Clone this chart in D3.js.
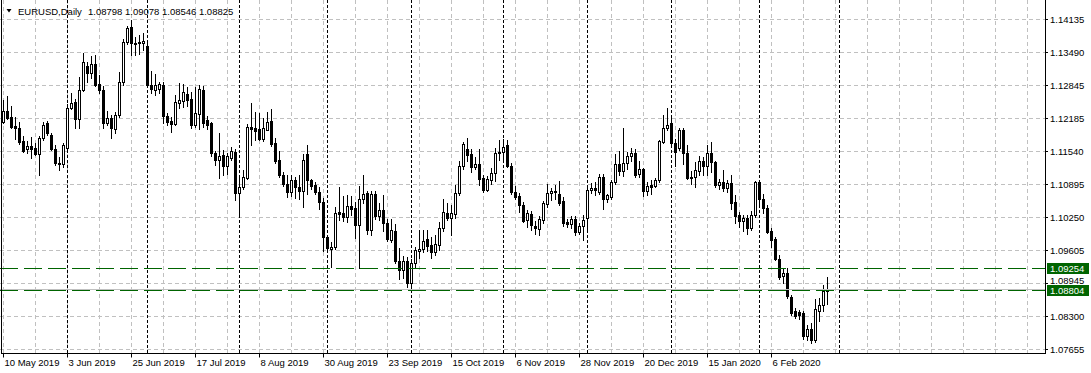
<!DOCTYPE html>
<html>
<head>
<meta charset="utf-8">
<script src="https://cdn.jsdelivr.net/npm/d3@7"></script>
<style>
  body { margin: 0; background: #fff; }
  svg { display: block; font-family: "Liberation Sans", Arial, sans-serif; }
</style>
</head>
<body>
<script>
// EURUSD daily bars, 10 May 2019 .. 26 Feb 2020
const opens = [1.1212,1.1233,1.1222,1.1203,1.1199,1.1173,1.1158,1.1164,1.1161,1.1148,1.1179,1.1209,1.1186,1.1158,1.1130,1.1128,1.1160,1.1238,1.1251,1.1218,
1.1274,1.1321,1.1308,1.1326,1.1286,1.1274,1.1209,1.1220,1.1197,1.1225,1.1290,1.1369,1.1398,1.1367,1.1369,1.1367,1.1361,1.1284,1.1274,1.1277,
1.1284,1.1223,1.1213,1.1207,1.1249,1.1253,1.1266,1.1256,1.1205,1.1226,1.1274,1.1215,1.1209,1.1151,1.1136,1.1146,1.1124,1.1141,1.1153,1.1072,
1.1083,1.1101,1.1201,1.1200,1.1197,1.1177,1.1196,1.1214,1.1170,1.1136,1.1107,1.1090,1.1074,1.1097,1.1084,1.1076,1.1148,1.1098,1.1087,1.1074,
1.1055,1.0986,1.0961,1.0966,1.1034,1.1032,1.1024,1.1046,1.1042,1.1009,1.1061,1.1071,1.0999,1.1070,1.1027,1.1038,1.1013,1.0980,1.0998,1.0938,
1.0920,1.0938,1.0895,1.0934,1.0958,1.0962,1.0981,1.0969,1.0955,1.0970,1.1004,1.1032,1.1023,1.1030,1.1071,1.1124,1.1158,1.1148,1.1122,1.1128,
1.1101,1.1078,1.1097,1.1111,1.1150,1.1152,1.1167,1.1125,1.1073,1.1066,1.1048,1.1019,1.1030,1.1008,1.1002,1.1019,1.1050,1.1071,1.1073,1.1070,
1.1056,1.1015,1.1010,1.1021,1.0996,1.1008,1.1022,1.1077,1.1081,1.1074,1.1104,1.1060,1.1063,1.1094,1.1128,1.1116,1.1130,1.1144,1.1150,1.1109,
1.1119,1.1075,1.1087,1.1085,1.1097,1.1172,1.1200,1.1210,1.1170,1.1161,1.1196,1.1150,1.1101,1.1104,1.1116,1.1135,1.1125,1.1150,1.1133,1.1087,
1.1094,1.1082,1.1091,1.1055,1.1029,1.1016,1.1022,1.1004,1.1028,1.1094,1.1060,1.1042,1.0997,1.0981,1.0942,1.0908,1.0914,1.0868,1.0840,1.0839,
1.0836,1.0791,1.0805,1.0783,1.0840,1.0852,1.08798];
const highs = [1.1254,1.1263,1.1243,1.1222,1.1212,1.1184,1.1174,1.1181,1.1170,1.1184,1.1211,1.1213,1.1189,1.1166,1.1142,1.1170,1.1246,1.1268,1.1256,1.1300,
1.1347,1.1330,1.1341,1.1343,1.1304,1.1282,1.1232,1.1225,1.1231,1.1310,1.1375,1.1400,1.1412,1.1378,1.1382,1.1386,1.1366,1.1311,1.1305,1.1290,
1.1290,1.1229,1.1222,1.1264,1.1288,1.1286,1.1280,1.1270,1.1280,1.1283,1.1282,1.1224,1.1212,1.1155,1.1189,1.1156,1.1150,1.1163,1.1158,1.1107,
1.1117,1.1208,1.1248,1.1230,1.1229,1.1220,1.1231,1.1236,1.1179,1.1155,1.1114,1.1107,1.1107,1.1103,1.1107,1.1149,1.1166,1.1099,1.1093,1.1083,
1.1062,1.0988,1.0975,1.1044,1.1084,1.1066,1.1068,1.1065,1.1055,1.1085,1.1107,1.1075,1.1075,1.1075,1.1052,1.1067,1.1021,1.1021,1.1010,1.0963,
1.0948,1.0946,1.0943,1.0965,1.0999,1.1000,1.1000,1.0985,1.0990,1.1015,1.1061,1.1052,1.1049,1.1088,1.1134,1.1172,1.1179,1.1158,1.1142,1.1158,
1.1107,1.1105,1.1120,1.1160,1.1175,1.1177,1.1176,1.1130,1.1085,1.1071,1.1055,1.1038,1.1036,1.1017,1.1026,1.1057,1.1089,1.1082,1.1088,1.1096,
1.1064,1.1021,1.1027,1.1026,1.1012,1.1029,1.1087,1.1091,1.1093,1.1110,1.1110,1.1069,1.1098,1.1148,1.1154,1.1199,1.1152,1.1160,1.1158,1.1135,
1.1121,1.1094,1.1097,1.1102,1.1176,1.1225,1.1238,1.1225,1.1178,1.1199,1.1200,1.1166,1.1115,1.1132,1.1145,1.1142,1.1166,1.1172,1.1134,1.1100,
1.1117,1.1097,1.1107,1.1068,1.1035,1.1029,1.1029,1.1037,1.1096,1.1096,1.1069,1.1048,1.1003,1.0986,1.0950,1.0924,1.0924,1.0871,1.0846,1.0842,
1.0841,1.0813,1.0817,1.0863,1.0866,1.0892,1.09078];
const lows = [1.1209,1.1217,1.1199,1.1177,1.1169,1.1152,1.1150,1.1140,1.1146,1.1107,1.1176,1.1186,1.1156,1.1127,1.1117,1.1123,1.1156,1.1237,1.1199,1.1199,
1.1272,1.1290,1.1298,1.1282,1.1268,1.1199,1.1205,1.1179,1.1190,1.1222,1.1284,1.1365,1.1343,1.1343,1.1345,1.1352,1.1281,1.1268,1.1265,1.1269,
1.1209,1.1205,1.1192,1.1205,1.1238,1.1240,1.1242,1.1199,1.1202,1.1198,1.1202,1.1198,1.1145,1.1127,1.1101,1.1108,1.1110,1.1137,1.1058,1.1025,
1.1080,1.1100,1.1166,1.1175,1.1175,1.1174,1.1195,1.1164,1.1131,1.1104,1.1085,1.1064,1.1066,1.1062,1.1060,1.1044,1.1070,1.1080,1.1070,1.1040,
1.0958,1.0955,1.0926,1.0962,1.1019,1.1016,1.1015,1.1028,1.0983,1.0924,1.1052,1.0992,1.0989,1.1021,1.1018,1.0997,1.0978,1.0975,1.0934,1.0903,
1.0905,1.0888,1.0878,1.0925,1.0945,1.0955,1.0958,1.0945,1.0950,1.0960,1.0998,1.1019,1.0990,1.1023,1.1068,1.1118,1.1134,1.1114,1.1118,1.1088,
1.1074,1.1076,1.1090,1.1096,1.1136,1.1137,1.1123,1.1070,1.1061,1.1034,1.1014,1.1005,1.0999,1.0991,1.0990,1.1012,1.1044,1.1058,1.1060,1.1048,
1.1008,1.1005,1.1003,1.0990,1.0992,1.0980,1.0999,1.1072,1.1068,1.1069,1.1040,1.1055,1.1060,1.1090,1.1108,1.1105,1.1118,1.1135,1.1103,1.1103,
1.1065,1.1067,1.1069,1.1083,1.1094,1.1170,1.1196,1.1164,1.1124,1.1156,1.1128,1.1100,1.1090,1.1083,1.1107,1.1107,1.1107,1.1113,1.1083,1.1080,
1.1075,1.1073,1.1040,1.1012,1.1006,1.0998,1.0992,1.0999,1.1024,1.1048,1.1033,1.0994,1.0966,1.0941,1.0902,1.0896,1.0865,1.0833,1.0826,1.0825,
1.0786,1.0783,1.0778,1.0780,1.0820,1.0840,1.08546];
const closes = [1.1232,1.1220,1.1202,1.1199,1.1171,1.1154,1.1164,1.1158,1.1148,1.1179,1.1205,1.1189,1.1158,1.1130,1.1128,1.1166,1.1238,1.1249,1.1218,1.1274,
1.1330,1.1308,1.1326,1.1284,1.1274,1.1209,1.1219,1.1199,1.1225,1.1290,1.1369,1.1395,1.1366,1.1364,1.1366,1.1371,1.1284,1.1277,1.1284,1.1285,
1.1223,1.1212,1.1207,1.1251,1.1254,1.1271,1.1254,1.1205,1.1228,1.1277,1.1209,1.1205,1.1150,1.1136,1.1144,1.1125,1.1144,1.1154,1.1072,1.1083,
1.1103,1.1201,1.1197,1.1194,1.1177,1.1199,1.1212,1.1169,1.1135,1.1107,1.1090,1.1074,1.1097,1.1083,1.1076,1.1136,1.1097,1.1085,1.1074,1.1055,
1.0986,1.0963,1.0966,1.1033,1.1031,1.1024,1.1046,1.1040,1.1009,1.1061,1.1069,1.0999,1.1070,1.1027,1.1038,1.1013,1.0982,1.1000,1.0938,1.0920,
1.0938,1.0895,1.0934,1.0960,1.0962,1.0978,1.0968,1.0955,1.0972,1.1004,1.1034,1.1023,1.1032,1.1071,1.1124,1.1168,1.1146,1.1122,1.1128,1.1099,
1.1078,1.1099,1.1111,1.1150,1.1153,1.1163,1.1125,1.1073,1.1064,1.1048,1.1017,1.1032,1.1009,1.1004,1.1021,1.1052,1.1071,1.1076,1.1076,1.1052,
1.1012,1.1010,1.1021,1.0996,1.1008,1.1019,1.1078,1.1081,1.1077,1.1104,1.1060,1.1067,1.1094,1.1128,1.1116,1.1130,1.1145,1.1151,1.1107,1.1118,
1.1075,1.1085,1.1083,1.1097,1.1174,1.1200,1.1206,1.1170,1.1153,1.1195,1.1150,1.1101,1.1104,1.1117,1.1135,1.1125,1.1150,1.1133,1.1087,1.1094,
1.1082,1.1091,1.1053,1.1026,1.1016,1.1022,1.1004,1.1028,1.1094,1.1060,1.1042,1.0996,1.0979,1.0943,1.0907,1.0914,1.0870,1.0837,1.0830,1.0832,
1.0791,1.0805,1.0783,1.0845,1.0852,1.0879,1.08825];

const priceTicks = [1.14135, 1.13490, 1.12845, 1.12185, 1.11540, 1.10895, 1.10250, 1.09605, 1.08945, 1.08300, 1.07655];
const timeLabels = ["10 May 2019", "3 Jun 2019", "25 Jun 2019", "17 Jul 2019", "8 Aug 2019", "30 Aug 2019",
  "23 Sep 2019", "15 Oct 2019", "6 Nov 2019", "28 Nov 2019", "20 Dec 2019", "15 Jan 2020", "6 Feb 2020"];
const hLines = [1.09254, 1.08804];
const bidPrice = 1.08825;
const symbol = "EURUSD,Daily";
const firstDay = Date.UTC(2019, 4, 10);
const holidays = ["2019-12-25", "2020-01-01"];

const W = 1091, H = 373;
const right = 1045, bottom = 353;
const nSlots = 261;   // bars + empty space on the right

// trading days (weekdays without the two holidays), also past the last bar
const days = [];
for (let t = firstDay; days.length < nSlots; t += 86400000) {
  const d = new Date(t);
  const wd = d.getUTCDay();
  if (wd === 0 || wd === 6) continue;
  if (holidays.includes(d.toISOString().slice(0, 10))) continue;
  days.push(d);
}

const svg = d3.select("body").append("svg")
    .attr("width", W)
    .attr("height", H);

// x gives the left pixel column of a bar slot, y is rounded to whole pixels
const x = d3.scaleLinear().domain([0, 1]).range([3, 7]);
const y = d3.scaleLinear().domain([1.07655, 1.14135]).range([349, 19]).interpolate(d3.interpolateRound);
const last = opens.length - 1;

// grid
const grid = svg.append("g");
priceTicks.forEach(p => {
  grid.append("line")
      .attr("x1", 0).attr("x2", right)
      .attr("y1", y(p) + 0.5).attr("y2", y(p) + 0.5)
      .attr("stroke", "#c0c0c0").attr("stroke-dasharray", "4,3");
});
for (let i = 0; i < nSlots; i += 8) {
  grid.append("line")
      .attr("x1", x(i) + 0.5).attr("x2", x(i) + 0.5)
      .attr("y1", 0).attr("y2", bottom)
      .attr("stroke", "#c0c0c0").attr("stroke-dasharray", "4,3");
}

// month separators (only up to the first one after the last bar)
let pastLast = false;
days.forEach((d, i) => {
  if (i === 0 || d.getUTCMonth() === days[i - 1].getUTCMonth() || pastLast) return;
  if (i > last) pastLast = true;
  svg.append("line")
      .attr("x1", x(i) + 0.5).attr("x2", x(i) + 0.5)
      .attr("y1", 0).attr("y2", bottom)
      .attr("stroke", "#000").attr("stroke-dasharray", "3,2");
});

// candles
const bars = svg.append("g");
opens.forEach((o, i) => {
  const c = closes[i];
  const top = y(Math.max(o, c)), bot = y(Math.min(o, c));
  bars.append("rect")
      .attr("x", x(i)).attr("width", 1)
      .attr("y", y(highs[i])).attr("height", y(lows[i]) - y(highs[i]) + 1)
      .attr("fill", "#000");
  if (c < o) {
    bars.append("rect")
        .attr("x", x(i) - 1).attr("width", 3)
        .attr("y", top).attr("height", bot - top + 1)
        .attr("fill", "#000");
  } else if (bot - top < 1) {
    bars.append("rect")
        .attr("x", x(i) - 1).attr("width", 3)
        .attr("y", top).attr("height", 1)
        .attr("fill", "#000");
  } else {
    bars.append("rect")
        .attr("x", x(i) - 0.5).attr("width", 2)
        .attr("y", top + 0.5).attr("height", bot - top)
        .attr("fill", "#fff").attr("stroke", "#000");
  }
});

// bid line and horizontal line objects
svg.append("line")
    .attr("x1", 0).attr("x2", right)
    .attr("y1", y(bidPrice) + 0.5).attr("y2", y(bidPrice) + 0.5)
    .attr("stroke", "#c0c0c0");
hLines.forEach(p => {
  svg.append("line")
      .attr("x1", 0).attr("x2", right)
      .attr("y1", y(p) + 0.5).attr("y2", y(p) + 0.5)
      .attr("stroke", "#006400").attr("stroke-dasharray", "18,6");
});

// frame
svg.append("line").attr("x1", 1.5).attr("x2", 1.5).attr("y1", 0).attr("y2", bottom + 0.5).attr("stroke", "#000");
svg.append("line").attr("x1", 1).attr("x2", right + 1).attr("y1", bottom + 0.5).attr("y2", bottom + 0.5).attr("stroke", "#000");
svg.append("line").attr("x1", right + 0.5).attr("x2", right + 0.5).attr("y1", 0).attr("y2", bottom + 0.5).attr("stroke", "#000");

// time axis
const xAxis = d3.axisBottom(x)
    .tickValues(timeLabels.map((_, k) => k * 16))
    .tickFormat((d, k) => timeLabels[k])
    .tickSizeInner(4).tickSizeOuter(0).tickPadding(2);
const gx = svg.append("g")
    .attr("transform", `translate(0,${bottom + 0.5})`)
    .call(xAxis);
gx.select(".domain").remove();
gx.selectAll("text")
    .attr("text-anchor", "start").attr("dx", 1)
    .attr("font-family", "Liberation Sans, Arial, sans-serif").attr("font-size", 9.5).attr("fill", "#000");

// price axis
const yAxis = d3.axisRight(y)
    .tickValues(priceTicks)
    .tickFormat(d3.format(".5f"))
    .tickSizeInner(3).tickSizeOuter(0).tickPadding(2);
const gy = svg.append("g")
    .attr("transform", `translate(${right},0)`)
    .call(yAxis);
gy.select(".domain").remove();
gy.selectAll("text")
    .attr("font-family", "Liberation Sans, Arial, sans-serif").attr("font-size", 9.5).attr("fill", "#000");
// a tick label that would sit under a line's price box is lifted above the box
gy.selectAll(".tick").each(function(p) {
  hLines.forEach(h => {
    const dy = y(h) - y(p);
    if (dy > 0 && dy < 11) d3.select(this).select("text").attr("y", -(11 - dy) + 1);
  });
});

// price labels of the horizontal lines
hLines.forEach(p => {
  svg.append("rect")
      .attr("x", right + 2).attr("y", y(p) - 5)
      .attr("width", 42).attr("height", 11)
      .attr("fill", "#006400");
  svg.append("text")
      .attr("x", right + 5).attr("y", y(p) + 4)
      .attr("font-size", 9.5).attr("fill", "#fff")
      .text(d3.format(".5f")(p));
});

// header
svg.append("path").attr("d", "M6.5,9 L11.5,9 L9,12.5 Z").attr("fill", "#000");
svg.append("text")
    .attr("x", 18).attr("y", 15)
    .attr("font-size", 9.5).attr("fill", "#000")
    .text(symbol);
svg.append("text")
    .attr("x", 88).attr("y", 15)
    .attr("font-size", 9.5).attr("fill", "#000")
    .text([opens[last], highs[last], lows[last], closes[last]].map(d3.format(".5f")).join(" "));
</script>
</body>
</html>
